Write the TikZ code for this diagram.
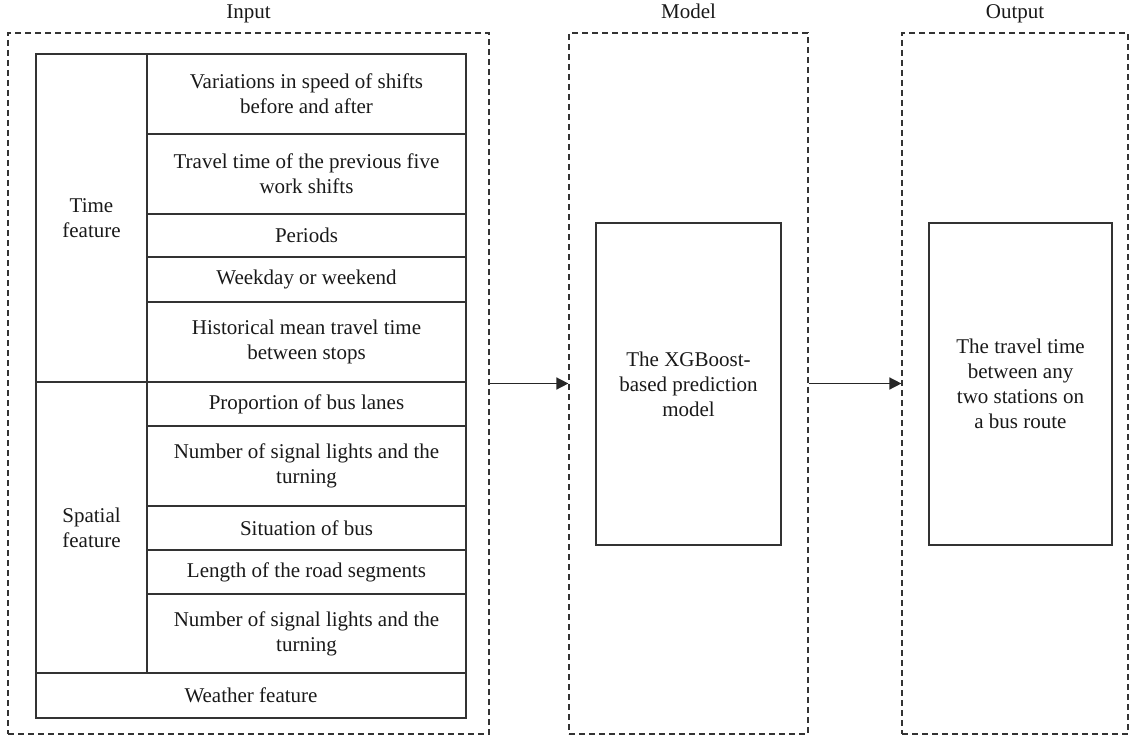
\documentclass[tikz,border=0pt]{standalone}
\usepackage{fontspec}
\setmainfont{Liberation Serif}
\usetikzlibrary{fit,arrows.meta}
\begin{document}
\begin{tikzpicture}[x=0.5pt,y=-0.5pt,
  every node/.style={font=\fontsize{10.5}{12.5}\selectfont, text=black!90},
  cell/.style={draw=black!80, line width=0.7pt, inner sep=0pt},
  txt/.style={align=center, inner sep=0pt},
  group/.style={draw=black!80, line width=0.6pt, dash pattern=on 3pt off 2pt, inner sep=0pt},
  title/.style={inner sep=0pt, anchor=base},
  flow/.style={draw=black!85, line width=0.75pt, -{Triangle[length=6pt,width=6pt]}}]
\useasboundingbox (0,0) rectangle (1134,738);
% dashed groups
\node[group, fit={(8,33) (489,734)}] (input) {};
\node[group, fit={(569,33) (808,734)}] (model) {};
\node[group, fit={(902,33) (1128,734)}] (output) {};
\node[title] (tinput) at (248.5,19) {Input};
\node[title] (tmodel) at (688.5,19) {Model};
\node[title] (toutput) at (1015,19) {Output};
% left column
\node[cell, fit={(36,54) (147,382)}] (time) {};
\node[cell, fit={(36,382) (147,673)}] (spatial) {};
\node[txt] (timet) at (time.center) {Time\\feature};
\node[txt] (spatialt) at (spatial.center) {Spatial\\feature};
% right column
\node[cell, fit={(147,54) (466,134)}] (r1) {};
\node[cell, fit={(147,134) (466,214)}] (r2) {};
\node[cell, fit={(147,214) (466,257)}] (r3) {};
\node[cell, fit={(147,257) (466,302)}] (r4) {};
\node[cell, fit={(147,302) (466,382)}] (r5) {};
\node[cell, fit={(147,382) (466,426)}] (r6) {};
\node[cell, fit={(147,426) (466,506)}] (r7) {};
\node[cell, fit={(147,506) (466,550)}] (r8) {};
\node[cell, fit={(147,550) (466,594)}] (r9) {};
\node[cell, fit={(147,594) (466,673)}] (r10) {};
\node[cell, fit={(36,673) (466,718)}] (weather) {};
\node[txt] (r1t) at (r1.center) {Variations in speed of shifts\\before and after};
\node[txt] (r2t) at (r2.center) {Travel time of the previous five\\work shifts};
\node[txt] (r3t) at (r3.center) {Periods};
\node[txt] (r4t) at (r4.center) {Weekday or weekend};
\node[txt] (r5t) at (r5.center) {Historical mean travel time\\between stops};
\node[txt] (r6t) at (r6.center) {Proportion of bus lanes};
\node[txt] (r7t) at (r7.center) {Number of signal lights and the\\turning};
\node[txt] (r8t) at (r8.center) {Situation of bus};
\node[txt] (r9t) at (r9.center) {Length of the road segments};
\node[txt] (r10t) at (r10.center) {Number of signal lights and the\\turning};
\node[txt] (weathert) at (weather.center) {Weather feature};
% model and output boxes
\node[cell, fit={(596,223) (781,545)}] (xgb) {};
\node[cell, fit={(929,223) (1112,545)}] (res) {};
\node[txt] (xgbt) at (xgb.center) {The XGBoost-\\based prediction\\model};
\node[txt] (rest) at (res.center) {The travel time\\between any\\two stations on\\a bus route};
% arrows
\draw[flow] (input.east) -- (model.west);
\draw[flow] (model.east) -- (output.west);
\end{tikzpicture}
\end{document}
